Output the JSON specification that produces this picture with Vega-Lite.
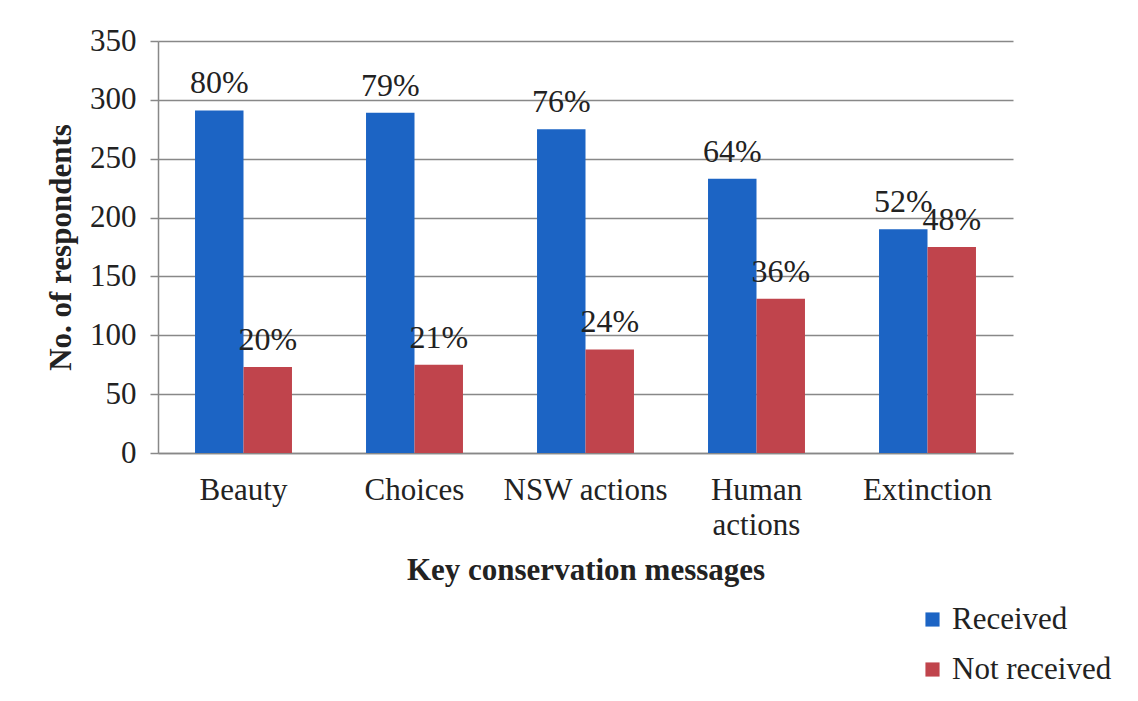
{
  "$schema": "https://vega.github.io/schema/vega-lite/v6.json",
  "autosize": {"type": "none"},
  "padding": {"left": 158, "top": 41, "right": 125, "bottom": 248},
  "width": 855,
  "height": 412,
  "background": "white",
  "config": {
    "font": "Liberation Serif",
    "view": {"stroke": null},
    "axis": {"labelFont": "Liberation Serif", "titleFont": "Liberation Serif", "labelColor": "#222", "titleColor": "#222"},
    "legend": {"padding": 0}
  },
  "data": {
    "values": [
      {"message": "Beauty", "status": "Received", "count": 291, "pct": "80%"},
      {"message": "Beauty", "status": "Not received", "count": 73, "pct": "20%"},
      {"message": "Choices", "status": "Received", "count": 289, "pct": "79%"},
      {"message": "Choices", "status": "Not received", "count": 75, "pct": "21%"},
      {"message": "NSW actions", "status": "Received", "count": 275, "pct": "76%"},
      {"message": "NSW actions", "status": "Not received", "count": 88, "pct": "24%"},
      {"message": "Human actions", "status": "Received", "count": 233, "pct": "64%"},
      {"message": "Human actions", "status": "Not received", "count": 131, "pct": "36%"},
      {"message": "Extinction", "status": "Received", "count": 190, "pct": "52%"},
      {"message": "Extinction", "status": "Not received", "count": 175, "pct": "48%"}
    ]
  },
  "encoding": {
    "x": {
      "field": "message", "type": "nominal",
      "sort": ["Beauty", "Choices", "NSW actions", "Human actions", "Extinction"],
      "scale": {"paddingInner": 0.433, "paddingOuter": 0.2165},
      "axis": {
        "title": "Key conservation messages",
        "titleFontSize": 31, "titleFontWeight": "bold", "titlePadding": 15,
        "labelFontSize": 31, "labelAngle": 0, "labelPadding": 22,
        "labelExpr": "datum.label == 'Human actions' ? ['Human', 'actions'] : datum.label",
        "labelLineHeight": 35,
        "ticks": false, "domainColor": "#888", "domainWidth": 1.5
      }
    },
    "xOffset": {
      "field": "status", "type": "nominal",
      "sort": ["Received", "Not received"],
      "scale": {"paddingInner": 0, "paddingOuter": 0}
    },
    "y": {
      "field": "count", "type": "quantitative",
      "scale": {"domain": [0, 350]},
      "axis": {
        "title": "No. of respondents",
        "titleFontSize": 31, "titleFontWeight": "bold", "titlePadding": 12,
        "labelFontSize": 31, "labelPadding": 14,
        "values": [0, 50, 100, 150, 200, 250, 300, 350],
        "grid": true, "gridColor": "#888", "gridWidth": 1.5,
        "tickColor": "#888", "tickWidth": 1.5, "tickSize": 8,
        "domainColor": "#888", "domainWidth": 1.5
      }
    }
  },
  "layer": [
    {
      "mark": {"type": "bar"},
      "encoding": {
        "color": {
          "field": "status", "type": "nominal",
          "sort": ["Received", "Not received"],
          "scale": {"domain": ["Received", "Not received"], "range": ["#1c64c4", "#c0444c"]},
          "legend": {
            "title": null, "orient": "none", "legendX": 759, "legendY": 563,
            "symbolType": "square", "symbolSize": 200, "symbolStrokeWidth": 0, "symbolOpacity": 1,
            "labelFontSize": 31, "labelFont": "Liberation Serif", "labelColor": "#222",
            "labelOffset": 4, "rowPadding": 18
          }
        }
      }
    },
    {
      "mark": {"type": "text", "baseline": "bottom", "dy": -10, "fontSize": 32, "font": "Liberation Serif", "color": "#222"},
      "encoding": {
        "text": {"field": "pct"}
      }
    }
  ]
}
